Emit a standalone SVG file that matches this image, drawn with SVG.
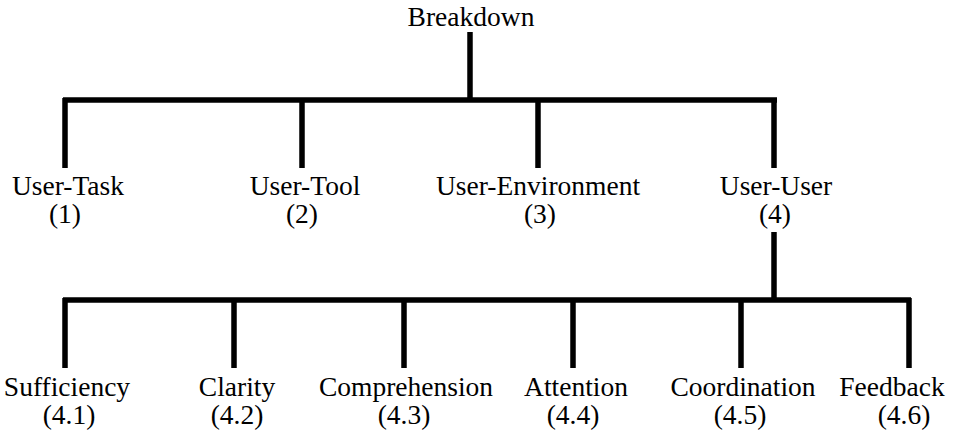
<svg xmlns="http://www.w3.org/2000/svg" width="956" height="435" viewBox="0 0 956 435">
<style>
text{font-family:'Liberation Serif','DejaVu Serif',serif;font-size:27.5px;fill:#000;text-anchor:middle}
.c{stroke:#000;stroke-width:5.5;fill:none;stroke-linecap:butt;stroke-linejoin:miter}
</style>
<rect width="956" height="435" fill="#fff"/>
<g id="connectors">
<path class="c" d="M470 32V100"/>
<path class="c" d="M63 100H777"/>
<path class="c" d="M65 98V168M302 98V168M538 98V168M774 98V168"/>
<path class="c" d="M774 232V300"/>
<path class="c" d="M63 300H911"/>
<path class="c" d="M65 298V368M234 298V368M404 298V368M573 298V368M741 298V368M909 298V368"/>
</g>
<g id="breakdown"><text x="471" y="26">Breakdown</text></g>
<g id="user-task"><text x="68" y="195">User-Task</text><text x="65" y="223">(1)</text></g>
<g id="user-tool"><text x="305" y="195">User-Tool</text><text x="302" y="223">(2)</text></g>
<g id="user-environment"><text x="538" y="195">User-Environment</text><text x="540" y="223">(3)</text></g>
<g id="user-user"><text x="776" y="195">User-User</text><text x="775" y="223">(4)</text></g>
<g id="sufficiency"><text x="67" y="396">Sufficiency</text><text x="69" y="424">(4.1)</text></g>
<g id="clarity"><text x="237" y="396">Clarity</text><text x="237" y="424">(4.2)</text></g>
<g id="comprehension"><text x="406" y="396">Comprehension</text><text x="404" y="424">(4.3)</text></g>
<g id="attention"><text x="576" y="396">Attention</text><text x="573" y="424">(4.4)</text></g>
<g id="coordination"><text x="743" y="396">Coordination</text><text x="740" y="424">(4.5)</text></g>
<g id="feedback"><text x="892" y="396">Feedback</text><text x="904" y="424">(4.6)</text></g>
</svg>
